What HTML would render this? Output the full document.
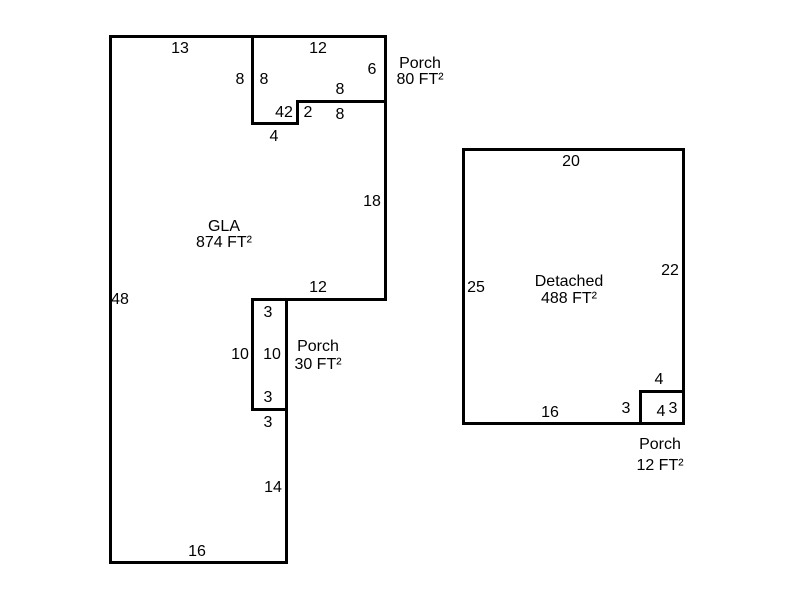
<!DOCTYPE html>
<html><head><style>
html,body{margin:0;padding:0;background:#fff;}
svg{display:block}
text{font-family:"Liberation Sans",Arial,sans-serif;font-size:16px;fill:#000;text-anchor:middle}
</style></head><body>
<svg width="800" height="600" xmlns="http://www.w3.org/2000/svg">
<g fill="none" stroke="#000" stroke-width="3">
<polyline points="252.5,36.5 110.5,36.5 110.5,562.5 286.5,562.5 286.5,299.5 385.5,299.5 385.5,101.5 297.5,101.5 297.5,123.5 252.5,123.5 252.5,36.5 385.5,36.5 385.5,101.5"/>
<rect x="252.5" y="299.5" width="34" height="110"/>
<rect x="463.5" y="149.5" width="220" height="274"/>
<rect x="640.5" y="391.5" width="43" height="32"/>
</g>
<g>
<text x="180" y="53">13</text>
<text x="318" y="53">12</text>
<text x="240" y="84">8</text>
<text x="264" y="84">8</text>
<text x="372" y="74">6</text>
<text x="340" y="94">8</text>
<text x="284" y="117">42</text>
<text x="308" y="117">2</text>
<text x="340" y="119">8</text>
<text x="274" y="141">4</text>
<text x="420" y="68">Porch</text>
<text x="420" y="84">80 FT²</text>
<text x="372" y="206">18</text>
<text x="224" y="231">GLA</text>
<text x="224" y="247">874 FT²</text>
<text x="120" y="304">48</text>
<text x="318" y="292">12</text>
<text x="268" y="317">3</text>
<text x="240" y="359">10</text>
<text x="272" y="359">10</text>
<text x="318" y="351">Porch</text>
<text x="318" y="369">30 FT²</text>
<text x="268" y="402">3</text>
<text x="268" y="427">3</text>
<text x="273" y="492">14</text>
<text x="197" y="556">16</text>
<text x="571" y="166">20</text>
<text x="670" y="275">22</text>
<text x="476" y="292">25</text>
<text x="569" y="286">Detached</text>
<text x="569" y="303">488 FT²</text>
<text x="659" y="384">4</text>
<text x="550" y="417">16</text>
<text x="626" y="413">3</text>
<text x="661" y="416">4</text>
<text x="673" y="413">3</text>
<text x="660" y="449">Porch</text>
<text x="660" y="470">12 FT²</text>
</g>
</svg>
</body></html>
